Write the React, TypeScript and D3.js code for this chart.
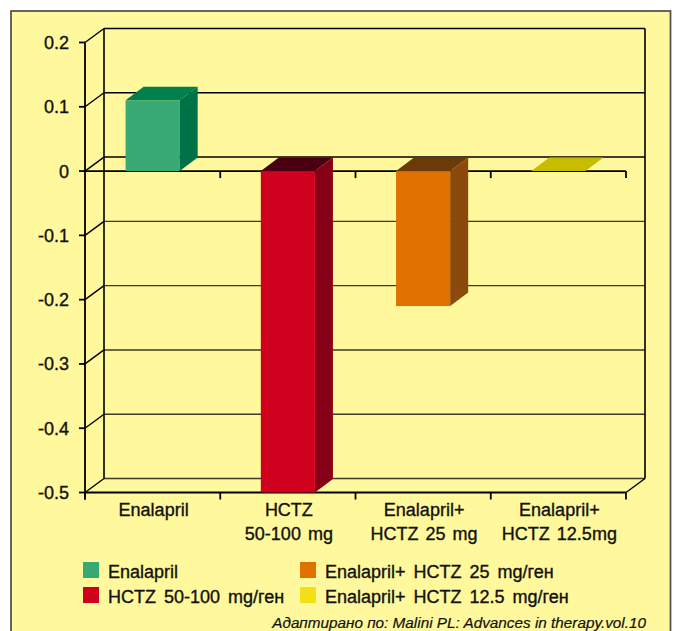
import * as d3 from "d3";

const categories = ["Enalapril", "HCTZ 50-100", "Enal+HCTZ 25", "Enal+HCTZ 12.5"];
const categoryLabels = [["Enalapril"], ["HCTZ", "50-100 mg"], ["Enalapril+", "HCTZ 25 mg"], ["Enalapril+", "HCTZ 12.5mg"]];
const values = [0.11, -0.5, -0.21, 0];
const yTicks = [0.2, 0.1, 0, -0.1, -0.2, -0.3, -0.4, -0.5];
const legendLabels = ["Enalapril", "HCTZ 50-100 mg/ген", "Enalapril+ HCTZ 25 mg/ген", "Enalapril+ HCTZ 12.5 mg/ген"];
const source = "Адаптирано по: Malini PL: Advances in therapy.vol.10";

// front, top, side shades per bar, plus legend swatch
const palette = [
  { front: "#3aaa74", top: "#00804f", side: "#007248", legend: "#38a972" },
  { front: "#d0001f", top: "#4a0012", side: "#880018", legend: "#d0021b" },
  { front: "#e07000", top: "#6b3a08", side: "#8b4a0c", legend: "#e07000" },
  { front: "#e8d800", top: "#c8bc00", side: "#a89c00", legend: "#f4de16" },
];

const W = 677;
const H = 631;
const font = "'Liberation Sans', Arial, sans-serif";
const textStyle = { fontFamily: font, fill: "#111", stroke: "#111", strokeWidth: 0.35 };

export default function App() {
  const x = d3.scaleBand<string>().domain(categories).range([85, 626]).paddingInner(0.6).paddingOuter(0.3);
  const y = d3.scaleLinear().domain([-0.5, 0.2]).range([492.5, 42.5]);
  const wallDx = 19;
  const wallDy = -14;
  const barDx = 18;
  const barDy = -13.5;
  const [x0, x1] = x.range();
  const y0 = y(0);
  const yBot = y(-0.5);
  const ticksX = d3.range(categories.length + 1).map((i) => x0 + i * x.step());

  return (
    <svg width={W} height={H} style={{ position: "absolute", left: 0, top: 0, background: "#fff" }}>
      <rect x={11} y={11} width={659.5} height={H + 20} fill="#fff89c" stroke="#555" strokeWidth={1.8} />

      {/* back wall + side wall gridlines */}
      {yTicks.map((t) => (
        <g key={t}>
          <line x1={x0 + wallDx} x2={x1 + wallDx} y1={y(t) + wallDy} y2={y(t) + wallDy} stroke={t >= 0 ? "#000" : "#3a3a30"} strokeWidth={t >= 0 ? 1.6 : 1.4} />
          <line x1={x0} x2={x0 + wallDx} y1={y(t)} y2={y(t) + wallDy} stroke="#000" strokeWidth={1.4} />
        </g>
      ))}
      <line x1={x0 + wallDx} x2={x0 + wallDx} y1={y(0.2) + wallDy} y2={yBot + wallDy} stroke="#000" strokeWidth={1.6} />
      <line x1={x1 + wallDx} x2={x1 + wallDx} y1={y(0.2) + wallDy} y2={yBot + wallDy} stroke="#000" strokeWidth={1.6} />
      <line x1={x1} x2={x1 + wallDx} y1={yBot} y2={yBot + wallDy} stroke="#000" strokeWidth={1.4} />

      {/* front zero line and floor edge */}
      <line x1={x0} x2={x1} y1={y0} y2={y0} stroke="#000" strokeWidth={1.8} />
      <line x1={x0} x2={x1} y1={yBot} y2={yBot} stroke="#000" strokeWidth={1.8} />
      {ticksX.slice(1).map((tx) => (
        <line key={"z" + tx} x1={tx} x2={tx} y1={y0} y2={y0 + 7} stroke="#000" strokeWidth={1.8} />
      ))}
      {ticksX.map((tx) => (
        <line key={"b" + tx} x1={tx} x2={tx} y1={yBot} y2={yBot + 7} stroke="#000" strokeWidth={1.8} />
      ))}

      {/* bars */}
      {categories.map((c, i) => {
        const bx = x(c) as number;
        const bw = x.bandwidth();
        const v = values[i];
        const yt = y(Math.max(0, v));
        const yb = y(Math.min(0, v));
        const col = palette[i];
        const top = `M${bx},${yt}L${bx + barDx},${yt + barDy}L${bx + bw + barDx},${yt + barDy}L${bx + bw},${yt}Z`;
        const side = `M${bx + bw},${yt}L${bx + bw + barDx},${yt + barDy}L${bx + bw + barDx},${yb + barDy}L${bx + bw},${yb}Z`;
        return (
          <g key={c}>
            {yb > yt && <rect x={bx} y={yt} width={bw} height={yb - yt} fill={col.front} />}
            {yb > yt && <path d={side} fill={col.side} />}
            <path d={top} fill={col.top} />
          </g>
        );
      })}

      {/* left axis */}
      <line x1={x0} x2={x0} y1={y(0.2)} y2={yBot + 7} stroke="#000" strokeWidth={1.8} />
      {yTicks.map((t) => (
        <g key={"yl" + t}>
          <line x1={x0 - 6} x2={x0} y1={y(t)} y2={y(t)} stroke="#000" strokeWidth={1.8} />
          <text x={69} y={y(t) + 6.5} textAnchor="end" fontSize={18} {...textStyle}>
            {String(t)}
          </text>
        </g>
      ))}

      {/* category labels */}
      {categories.map((c, i) => (
        <text key={"cl" + c} x={(x(c) as number) + x.bandwidth() / 2 + 1} y={515.5} textAnchor="middle" fontSize={18} {...textStyle} wordSpacing={2}>
          {categoryLabels[i].map((l, j) => (
            <tspan key={j} x={(x(c) as number) + x.bandwidth() / 2 + 1} dy={j === 0 ? 0 : 24.5}>
              {l}
            </tspan>
          ))}
        </text>
      ))}

      {/* legend */}
      {legendLabels.map((l, i) => {
        const lx = i < 2 ? 83 : 300;
        const ly = i % 2 === 0 ? 562 : 587;
        return (
          <g key={"lg" + i}>
            <rect x={lx} y={ly} width={16} height={16} fill={palette[i].legend} />
            <text x={lx + 25} y={ly + 15.5} fontSize={18} {...textStyle} wordSpacing={3}>
              {l}
            </text>
          </g>
        );
      })}

      <text x={646} y={628} textAnchor="end" fontStyle="italic" fontSize={15.3} {...textStyle} strokeWidth={0.2}>
        {source}
      </text>
    </svg>
  );
}
